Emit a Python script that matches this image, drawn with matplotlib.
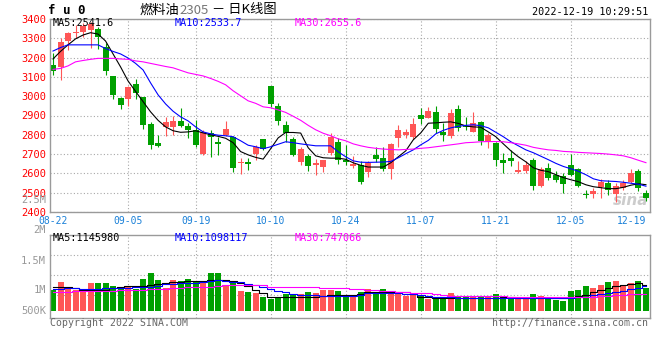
import numpy as np
import matplotlib
matplotlib.use('Agg')
import matplotlib.pyplot as plt
from matplotlib.text import Annotation

plt.rcParams['font.family'] = ['DejaVu Sans Mono', 'Noto Sans CJK SC']

# 日期刻度
dates = ['08-22', '09-05', '09-19', '10-10', '10-24', '11-07', '11-21', '12-05', '12-19']
date_idx = [0, 10, 19, 29, 39, 49, 59, 69, 79]

# 日K数据 (开 高 低 收)
open_ = [3162, 3153, 3288, 3326, 3334, 3343, 3348, 3257, 3105, 2993,
         2985, 3064, 2995, 2857, 2757, 2841, 2840, 2869, 2846, 2826,
         2700, 2809, 2765, 2800, 2791, 2653, 2657, 2702, 2779, 3053,
         2950, 2852, 2778, 2657, 2691, 2645, 2633, 2705, 2762, 2671,
         2636, 2645, 2605, 2696, 2679, 2622, 2783, 2800, 2788, 2903,
         2889, 2917, 2817, 2795, 2933, 2848, 2817, 2864, 2765, 2757,
         2671, 2679, 2605, 2615, 2671, 2536, 2628, 2593, 2588, 2645,
         2622, 2495, 2495, 2529, 2550, 2495, 2524, 2558, 2615, 2498]
high = [3224, 3300, 3333, 3369, 3379, 3386, 3359, 3277, 3105, 2998,
        3053, 3088, 2996, 2867, 2800, 2893, 2898, 2938, 2862, 2878,
        2826, 2826, 2791, 2869, 2795, 2679, 2679, 2748, 2779, 3053,
        2964, 2874, 2788, 2739, 2702, 2674, 2671, 2809, 2783, 2748,
        2691, 2662, 2662, 2739, 2736, 2760, 2852, 2829, 2886, 2938,
        2943, 2950, 2862, 2933, 2955, 2891, 2920, 2872, 2809, 2765,
        2705, 2722, 2662, 2662, 2679, 2633, 2653, 2615, 2602, 2702,
        2628, 2515, 2524, 2571, 2564, 2550, 2567, 2622, 2622, 2515]
low = [3110, 3084, 3240, 3303, 3308, 3248, 3245, 3110, 2988, 2933,
       2950, 2985, 2831, 2726, 2737, 2795, 2800, 2840, 2784, 2738,
       2696, 2685, 2696, 2796, 2605, 2597, 2619, 2667, 2719, 2943,
       2852, 2765, 2688, 2645, 2610, 2593, 2605, 2696, 2650, 2645,
       2628, 2546, 2581, 2657, 2615, 2571, 2739, 2783, 2779, 2857,
       2886, 2809, 2770, 2784, 2820, 2826, 2815, 2748, 2731, 2636,
       2602, 2636, 2602, 2602, 2515, 2529, 2567, 2553, 2501, 2584,
       2529, 2472, 2472, 2472, 2490, 2450, 2515, 2550, 2507, 2455]
close = [3133, 3283, 3326, 3334, 3364, 3374, 3305, 3133, 3007, 2952,
         3047, 3019, 2852, 2748, 2743, 2867, 2874, 2846, 2826, 2748,
         2817, 2791, 2753, 2829, 2628, 2657, 2648, 2736, 2726, 2959,
         2869, 2809, 2696, 2727, 2640, 2653, 2667, 2791, 2670, 2657,
         2650, 2558, 2653, 2674, 2622, 2753, 2826, 2812, 2857, 2881,
         2924, 2829, 2800, 2915, 2836, 2841, 2862, 2770, 2800, 2667,
         2653, 2662, 2619, 2645, 2536, 2622, 2576, 2567, 2546, 2593,
         2536, 2486, 2510, 2558, 2515, 2536, 2550, 2602, 2524, 2472]

# 均线
ma5 = [3193, 3232, 3266, 3297, 3317, 3329, 3322, 3286, 3219, 3152,
       3079, 3025, 2972, 2919, 2875, 2841, 2821, 2813, 2815, 2821,
       2810, 2800, 2792, 2782, 2759, 2713, 2696, 2683, 2674, 2728,
       2784, 2812, 2812, 2809, 2733, 2691, 2681, 2679, 2679, 2673,
       2655, 2642, 2633, 2633, 2633, 2655, 2686, 2717, 2774, 2810,
       2860, 2862, 2865, 2867, 2859, 2846, 2841, 2839, 2815, 2790,
       2753, 2717, 2686, 2660, 2629, 2616, 2609, 2593, 2578, 2567,
       2557, 2541, 2531, 2526, 2521, 2521, 2528, 2539, 2546, 2541.6]
ma10 = [3234, 3252, 3266, 3266, 3266, 3266, 3266, 3247, 3232, 3219,
        3198, 3170, 3136, 3069, 3007, 2960, 2922, 2893, 2872, 2841,
        2815, 2805, 2798, 2795, 2790, 2769, 2746, 2738, 2728, 2738,
        2751, 2764, 2759, 2753, 2748, 2743, 2743, 2743, 2712, 2686,
        2665, 2658, 2657, 2658, 2659, 2662, 2681, 2702, 2722, 2748,
        2771, 2805, 2823, 2836, 2844, 2849, 2852, 2847, 2836, 2813,
        2790, 2764, 2743, 2722, 2707, 2689, 2671, 2652, 2636, 2624,
        2611, 2593, 2572, 2562, 2560, 2558, 2554, 2549, 2544, 2533.7]
ma30 = [3139, 3144, 3157, 3178, 3185, 3191, 3196, 3196, 3196, 3193,
        3191, 3183, 3178, 3170, 3162, 3154, 3147, 3134, 3121, 3113,
        3105, 3092, 3077, 3059, 3028, 3002, 2976, 2963, 2945, 2940,
        2929, 2916, 2896, 2875, 2849, 2826, 2808, 2795, 2779, 2769,
        2753, 2743, 2735, 2730, 2726, 2724, 2722, 2724, 2726, 2730,
        2733, 2738, 2743, 2748, 2753, 2759, 2761, 2764, 2765, 2765,
        2764, 2759, 2753, 2746, 2735, 2728, 2722, 2719, 2714, 2712,
        2709, 2707, 2705, 2703, 2700, 2696, 2691, 2681, 2668, 2655.6]

# 成交量 (千手)
vol_k = [930, 1298, 961, 930, 975, 1254, 1254, 1254, 1108, 1076,
         1076, 961, 1418, 1697, 1373, 1006, 1373, 1342, 1418, 1329,
         1254, 1697, 1697, 1152, 1254, 886, 842, 811, 633, 532,
         633, 740, 753, 740, 855, 784, 930, 930, 886, 709,
         709, 855, 961, 811, 975, 886, 811, 678, 811, 678,
         532, 607, 607, 811, 633, 607, 633, 633, 633, 753,
         633, 607, 633, 633, 753, 665, 532, 487, 443, 886,
         930, 1108, 1032, 1152, 1298, 1329, 1121, 1254, 1329, 1032]
vma5_k = [1050, 1050, 1050, 997, 952, 930, 930, 952, 997, 1063,
          1108, 1108, 1108, 1152, 1196, 1240, 1285, 1298, 1307, 1329,
          1351, 1373, 1395, 1395, 1351, 1254, 1108, 930, 784, 642,
          607, 607, 607, 607, 607, 620, 665, 709, 709, 709,
          709, 775, 820, 820, 828, 828, 828, 828, 753, 642,
          607, 598, 598, 589, 589, 580, 576, 567, 563, 598,
          633, 620, 598, 589, 576, 576, 563, 563, 563, 633,
          665, 709, 820, 950, 1040, 1100, 1150, 1196, 1227, 1146]
vma10_k = [961, 975, 997, 1006, 983, 961, 975, 997, 1006, 1019,
           1041, 1050, 1050, 1050, 1108, 1174, 1218, 1227, 1240, 1254,
           1263, 1330, 1373, 1340, 1298, 1271, 1210, 1150, 1063, 980,
           900, 820, 750, 696, 696, 696, 680, 665, 665, 665,
           665, 700, 784, 784, 784, 784, 784, 775, 745, 700,
           665, 640, 620, 600, 589, 580, 576, 570, 563, 563,
           563, 570, 580, 589, 589, 580, 570, 563, 563, 580,
           610, 640, 700, 760, 800, 850, 900, 960, 1020, 1098]
vma30_k = [828, 842, 855, 864, 873, 877, 886, 886, 895, 917,
           930, 939, 952, 961, 966, 975, 997, 1041, 1050, 1050,
           1063, 1085, 1116, 1139, 1152, 1152, 1152, 1152, 1130, 1076,
           1076, 1076, 1076, 1076, 1076, 1076, 1041, 1006, 1006, 997,
           975, 961, 944, 917, 886, 873, 851, 828, 811, 811,
           784, 731, 687, 678, 678, 678, 673, 665, 665, 665,
           651, 642, 642, 633, 633, 633, 633, 633, 633, 633,
           633, 633, 642, 651, 665, 687, 709, 731, 740, 747]

price_ticks = list(range(2400, 3401, 100))
vol_grid = [709000, 1595000, 2481000]
vol_labels = ['2.5M', '2M', '1.5M', '1M', '500K']

RED = '#ff5656'
GREEN = '#00a000'
GRID = '#a8a8a8'
W, H = 660, 360

fig = plt.figure(figsize=(6.6, 3.6), dpi=100)
ax = fig.add_axes([50 / W, 1 - 212 / H, 600 / W, 193 / H])
axv = fig.add_axes([50 / W, 1 - 318 / H, 600 / W, 83 / H])

x = np.arange(len(close))
o, h, l, c = map(np.array, (open_, high, low, close))
cols = np.where(c >= o, RED, GREEN)

# K线
ax.vlines(x, l, h, colors=cols, lw=0.8, zorder=2)
ax.bar(x, np.maximum(np.abs(c - o), 4), 0.8, bottom=np.minimum(o, c),
       color=cols, linewidth=0, zorder=2)
ax.plot(x, ma5, color='black', lw=0.8, zorder=3)
ax.plot(x, ma10, color='#0000ff', lw=0.8, zorder=3)
ax.plot(x, ma30, color='#ff00ff', lw=0.8, zorder=3)
ax.set_ylim(2400, 3400)

# 成交量
axv.bar(x, np.array(vol_k) * 1000, 0.8, color=cols, linewidth=0, zorder=2)
axv.plot(x, np.array(vma5_k) * 1000, color='black', lw=0.8, drawstyle='steps-mid', zorder=3)
axv.plot(x, np.array(vma10_k) * 1000, color='#0000ff', lw=0.8, drawstyle='steps-mid', zorder=3)
axv.plot(x, np.array(vma30_k) * 1000, color='#ff00ff', lw=0.8, drawstyle='steps-mid', zorder=3)
axv.set_ylim(-310100, 3366800)

for a in (ax, axv):
    a.set_xlim(-0.4, 79.54)
    a.set_xticks(date_idx)
    a.set_xticks(date_idx[1:-1], minor=True)
    a.xaxis.remove_overlapping_locs = False
    a.grid(True, which='minor', axis='x', color=GRID, linestyle=(0, (1, 2)), lw=0.8)
    a.grid(False, which='major', axis='x')
    a.grid(True, which='major', axis='y', color=GRID, linestyle=(0, (1, 2)), lw=0.8)
    a.tick_params(which='both', length=0)
    for s in a.spines.values():
        s.set_color('#9a9a9a')
        s.set_linewidth(1)

ax.set_yticks(price_ticks)
ax.tick_params(axis='y', colors='#ff0000', labelsize=7.5, pad=3)
ax.set_xticklabels(dates)
ax.tick_params(axis='x', colors='#1a80d8', labelsize=7, pad=3)
ax.get_xticklabels()[-1].set_ha('right')

axv.set_yticks(vol_grid)
axv.tick_params(labelleft=False, labelbottom=False)

# 成交量刻度文字
for lab, ypx in zip(vol_labels, [200, 230, 261, 290, 311]):
    axv.text(-4 / 600, (318 - ypx) / 83, lab, transform=axv.transAxes,
             ha='right', va='center', fontsize=7.5, color='#999999', clip_on=False)

# 均线图例
ax.text(0.005, 0.978, 'MA5:2541.6', transform=ax.transAxes, va='center', fontsize=7.3, color='black')
ax.text(0.208, 0.978, 'MA10:2533.7', transform=ax.transAxes, va='center', fontsize=7.3, color='#0000ff')
ax.text(0.408, 0.978, 'MA30:2655.6', transform=ax.transAxes, va='center', fontsize=7.3, color='#ff00ff')
axv.text(0.005, 0.96, 'MA5:1145980', transform=axv.transAxes, va='center', fontsize=7.3, color='black')
axv.text(0.208, 0.96, 'MA10:1098117', transform=axv.transAxes, va='center', fontsize=7.3, color='#0000ff')
axv.text(0.408, 0.96, 'MA30:747066', transform=axv.transAxes, va='center', fontsize=7.3, color='#ff00ff')

ax.text(0.997, 0.062, 'sina', transform=ax.transAxes, ha='right', va='center',
        fontsize=11, fontstyle='italic', fontweight='bold', color='#cccccc',
        family=['DejaVu Sans'], zorder=1)

# 标题
cjk = ['Noto Sans CJK SC', 'DejaVu Sans']
fig.text(48 / W, 1 - 11 / H, 'f u 0', fontsize=9, fontweight='bold', va='center')
t1 = fig.text(140 / W, 1 - 10 / H, '燃料油', fontsize=9.5, family=cjk, va='center')
t2 = fig.add_artist(Annotation('2305', xy=(1, 0.5), xycoords=t1, va='center', ha='left',
                               fontsize=9.5, family=cjk, color='#777777'))
fig.add_artist(Annotation(' － 日K线图', xy=(1, 0.5), xycoords=t2, va='center', ha='left',
                          fontsize=9.5, family=cjk))
fig.text(648 / W, 1 - 12 / H, '2022-12-19 10:29:51', fontsize=7.3, ha='right', va='center')
fig.text(50 / W, 1 - 323 / H, 'Copyright 2022 SINA.COM', fontsize=7.1, color='#666666', va='center')
fig.text(648 / W, 1 - 323 / H, 'http://finance.sina.com.cn', fontsize=7.1, color='#666666',
         ha='right', va='center')

fig.savefig('out.png', dpi=100, facecolor='white')
